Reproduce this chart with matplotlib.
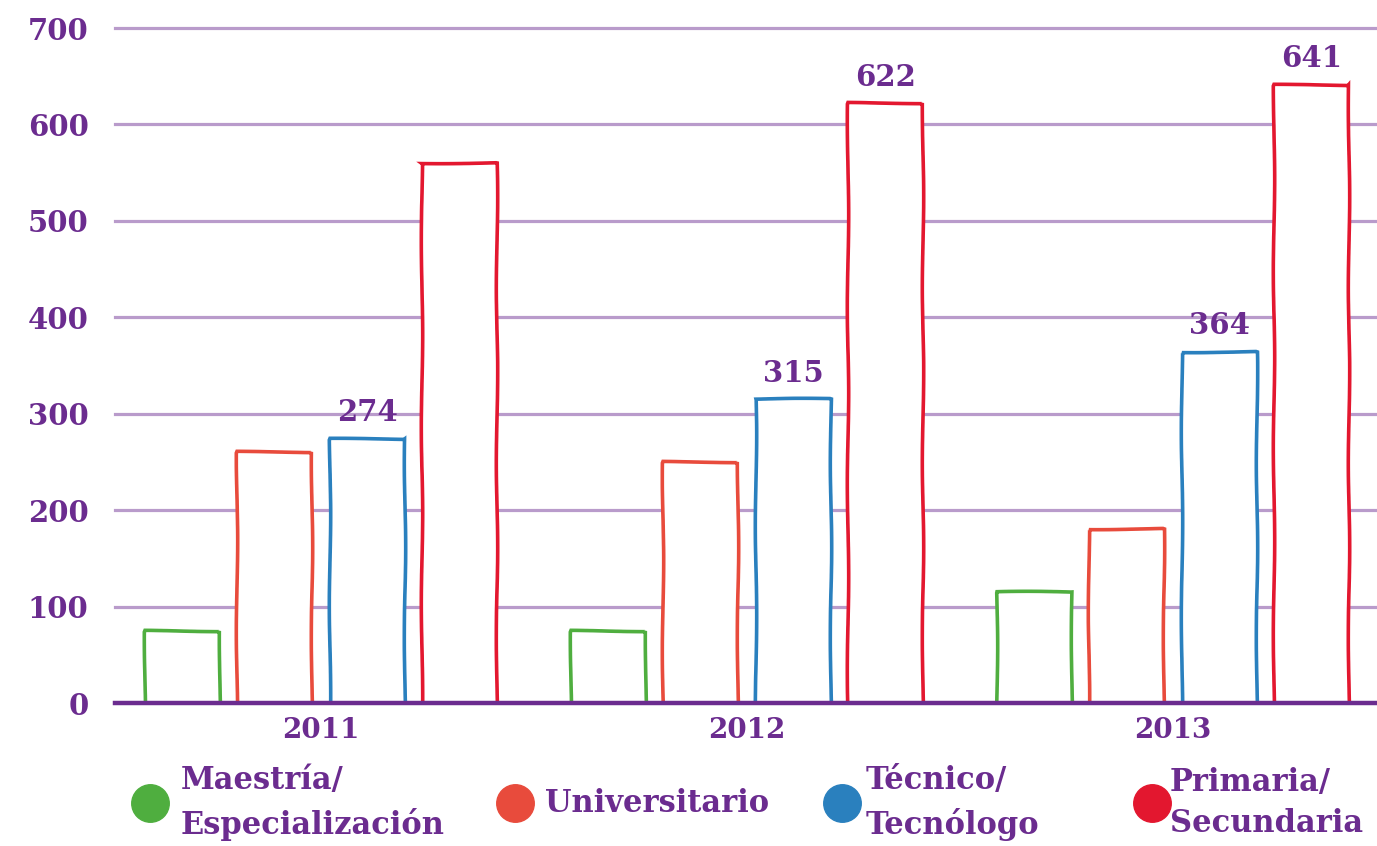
import matplotlib
matplotlib.use("Agg")
import matplotlib.pyplot as plt
from matplotlib.lines import Line2D
import numpy as np

years = ["2011", "2012", "2013"]
categories = ["Maestría/\nEspecialización", "Universitario", "Técnico/\nTecnólogo", "Primaria/\nSecundaria"]
maestria = [75, 75, 115]
universitario = [260, 250, 180]
tecnico = [274, 315, 364]
primaria = [560, 622, 641]
series = [maestria, universitario, tecnico, primaria]
show_labels = [[False, False, False], [False, False, False], [True, True, True], [False, True, True]]
yticks = [0, 100, 200, 300, 400, 500, 600, 700]

colors = ["#4fae3f", "#e84b3c", "#2a80be", "#e3172f"]
purple = "#6b2c8f"
grid_purple = "#b99bcb"
FONT = ["DejaVu Serif"]

fig = plt.figure(figsize=(13.77, 8.46), dpi=100)
ax = fig.add_axes([115/1377, 1-703/846, 1-115/1377, (703-28)/846])

x = np.arange(len(years))
step = 0.217
width = 0.176
offsets = (np.arange(len(series)) - 1.5) * step

for yv in yticks[1:]:
    ax.axhline(yv, color=grid_purple, lw=2.3, zorder=0, clip_on=False)

for i, (vals, col) in enumerate(zip(series, colors)):
    bars = ax.bar(x + offsets[i], vals, width=width, color="white",
                  edgecolor=col, linewidth=2.6, zorder=2)
    for b in bars:
        b.set_sketch_params(scale=0.7, length=200, randomness=2)
    for j, v in enumerate(vals):
        if show_labels[i][j]:
            ax.text(x[j] + offsets[i], v + 12, str(v), ha="center", va="bottom",
                    fontsize=21, fontweight="bold", color=purple, family=FONT, zorder=4)

ax.axhline(0, color=purple, lw=3.2, zorder=5, clip_on=False)

ax.set_xlim(-0.484, 2.479)
ax.set_ylim(0, 700)
ax.set_yticks(yticks)
ax.set_yticklabels([str(t) for t in yticks], fontsize=21, fontweight="bold",
                   color=purple, family=FONT)
ax.tick_params(axis="y", length=0, pad=19)
ax.set_xticks(x)
ax.set_xticklabels(years, fontsize=20, fontweight="bold", color=purple, family=FONT)
ax.tick_params(axis="x", length=0, pad=10)
for s in ax.spines.values():
    s.set_visible(False)

# Legend
marker_x = [150, 515, 842, 1152]
text_x = [181, 545, 866, 1170]
ly = 803
for mx, tx, lab, col in zip(marker_x, text_x, categories, colors):
    fig.add_artist(Line2D([mx/1377], [1-ly/846], marker="o", markersize=27,
                          markerfacecolor=col, markeredgecolor=col, linestyle="none",
                          transform=fig.transFigure))
    fig.text(tx/1377, 1-ly/846, lab, ha="left", va="center", fontsize=22,
             fontweight="bold", color=purple, family=FONT, linespacing=1.45)

fig.savefig("out.png", dpi=100, facecolor="white")
